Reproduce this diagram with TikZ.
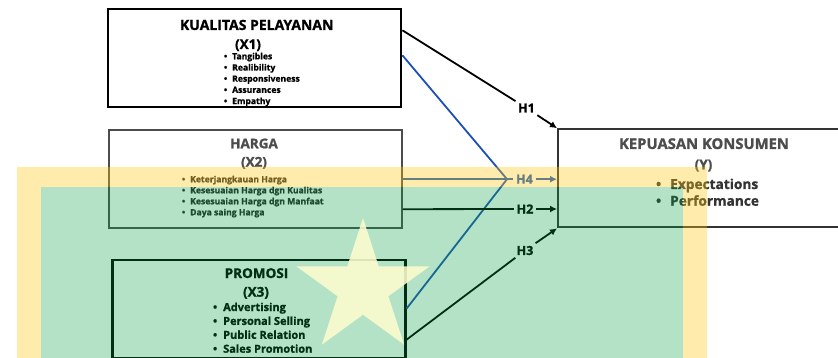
\documentclass[tikz,border=0pt]{standalone}
\usepackage{fontspec}
\setmainfont{Open Sans}[BoldFeatures={FakeBold=1.2}]
\usetikzlibrary{positioning,arrows.meta}
\definecolor{linkblue}{RGB}{30,80,180}
\definecolor{hfourblue}{RGB}{20,85,190}
\definecolor{bandyellow}{RGB}{255,200,20}
\definecolor{bandgreen}{RGB}{5,158,65}
\definecolor{starfill}{RGB}{252,252,205}

\tikzset{
  box/.style={draw, line width=2.2pt, minimum width=293pt, minimum height=98pt, inner sep=0pt},
  ttl/.style={anchor=base, inner sep=0pt, font=\bfseries\fontsize{13.5}{16}\selectfont},
  item/.style={anchor=base west, inner sep=0pt, execute at begin node={\llap{\textbullet\hspace{#1}}}},
  item/.default=5pt,
  hyp/.style={inner sep=2.5pt, font=\bfseries\fontsize{12.5}{14}\selectfont},
  link/.style={line width=1.8pt},
  tip/.style={link, -{Latex[length=7pt,width=7pt]}},
}

\begin{document}
\begin{tikzpicture}[x=1pt,y=-1pt]
  \useasboundingbox (0,0) rectangle (838,358);
  \clip (0,0) rectangle (838,358);

  %% Boxes
  \node[box] (x1) at (254.8,58.3) {};
  \node[box, draw=black!70] (x2) at (255.3,179.2) {};
  \node[box] (x3) at (258.9,308.7) {};
  \node[box, draw=black!80, minimum width=330pt, anchor=west] (y) at (557,178.3) {};

  %% X1
  \node[ttl, font=\bfseries\fontsize{14}{16}\selectfont] (x1t) at (256.7,30) {KUALITAS PELAYANAN};
  \node[ttl] (x1n) at (248,49) {(X1)};
  \foreach \t [count=\i from 0] in {Tangibles,Realibility,Responsiveness,Assurances,Empathy}
    \node[item, font=\bfseries\fontsize{8.6}{10}\selectfont] (x1i\i) at (232,{59.3+11.2*\i}) {\t};

  %% X2
  \node[ttl, text=black!70] (x2t) at (254,148.3) {HARGA};
  \node[ttl, text=black!70] (x2n) at (254,166.7) {(X2)};
  \foreach \t [count=\i from 0] in {Keterjangkauan Harga,Kesesuaian Harga dgn Kualitas,Kesesuaian Harga dgn Manfaat,Daya saing Harga}
    \node[item, text=black!85, font=\bfseries\fontsize{8.6}{10}\selectfont] (x2i\i) at (190,{182.3+11*\i}) {\t};

  %% X3
  \node[ttl] (x3t) at (256.5,278) {PROMOSI};
  \node[ttl] (x3n) at (256,296.7) {(X3)};
  \foreach \t [count=\i from 0] in {Advertising,Personal Selling,Public Relation,Sales Promotion}
    \node[item=6pt, font=\bfseries\fontsize{11}{13}\selectfont] (x3i\i) at (223,{311+13.9*\i}) {\t};

  %% Y
  \node[ttl, text=black!70, font=\bfseries\fontsize{14.8}{16}\selectfont] (yt) at (704,149) {KEPUASAN KONSUMEN};
  \node[ttl, text=black!70] (yn) at (703.5,169.3) {(Y)};
  \foreach \t [count=\i from 0] in {Expectations,Performance}
    \node[item=9pt, text=black!80, font=\bfseries\fontsize{13.7}{15}\selectfont] (yi\i) at (670,{189+16.7*\i}) {\t};

  %% Hypotheses
  \node[hyp] (h1) at (526.5,108) {H1};
  \node[hyp, text=hfourblue] (h4) at (524.5,179.2) {H4};
  \node[hyp] (h2) at (525,209) {H2};
  \node[hyp] (h3) at (525,250.5) {H3};
  \coordinate (j4) at (507,179.2);

  \draw[link] ([yshift=28pt]x1.east) -- (h1);
  \draw[tip] (h1) -- (y.north west);
  \draw[link, linkblue] ([yshift=3pt]x1.east) -- (j4);
  \draw[link, linkblue] (x3.east) -- (j4);
  \draw[link, hfourblue] (x2.east) -- (j4) -- (h4.west);
  \draw[tip, hfourblue] (h4) -- (h4 -| y.west);
  \draw[link] ([yshift=-30pt]x2.east) -- (h2);
  \draw[tip] (h2) -- (h2 -| y.west);
  \draw[link] ([yshift=-31pt]x3.east) -- (h3);
  \draw[tip] (h3) -- (y.south west);

  %% Overlay band and star
  \fill[bandyellow, fill opacity=0.35, even odd rule] (17,167) rectangle (707,370) (41,187) rectangle (683,370);
  \fill[bandgreen, fill opacity=0.3] (41,187) rectangle (683,370);
  \fill[starfill, fill opacity=0.88, shift={(363,288)}] (-90:70)
    \foreach \a in {1,3,5,7,9} { -- (-90+36*\a:26.7) -- (-54+36*\a:70) } -- cycle;
\end{tikzpicture}
\end{document}
